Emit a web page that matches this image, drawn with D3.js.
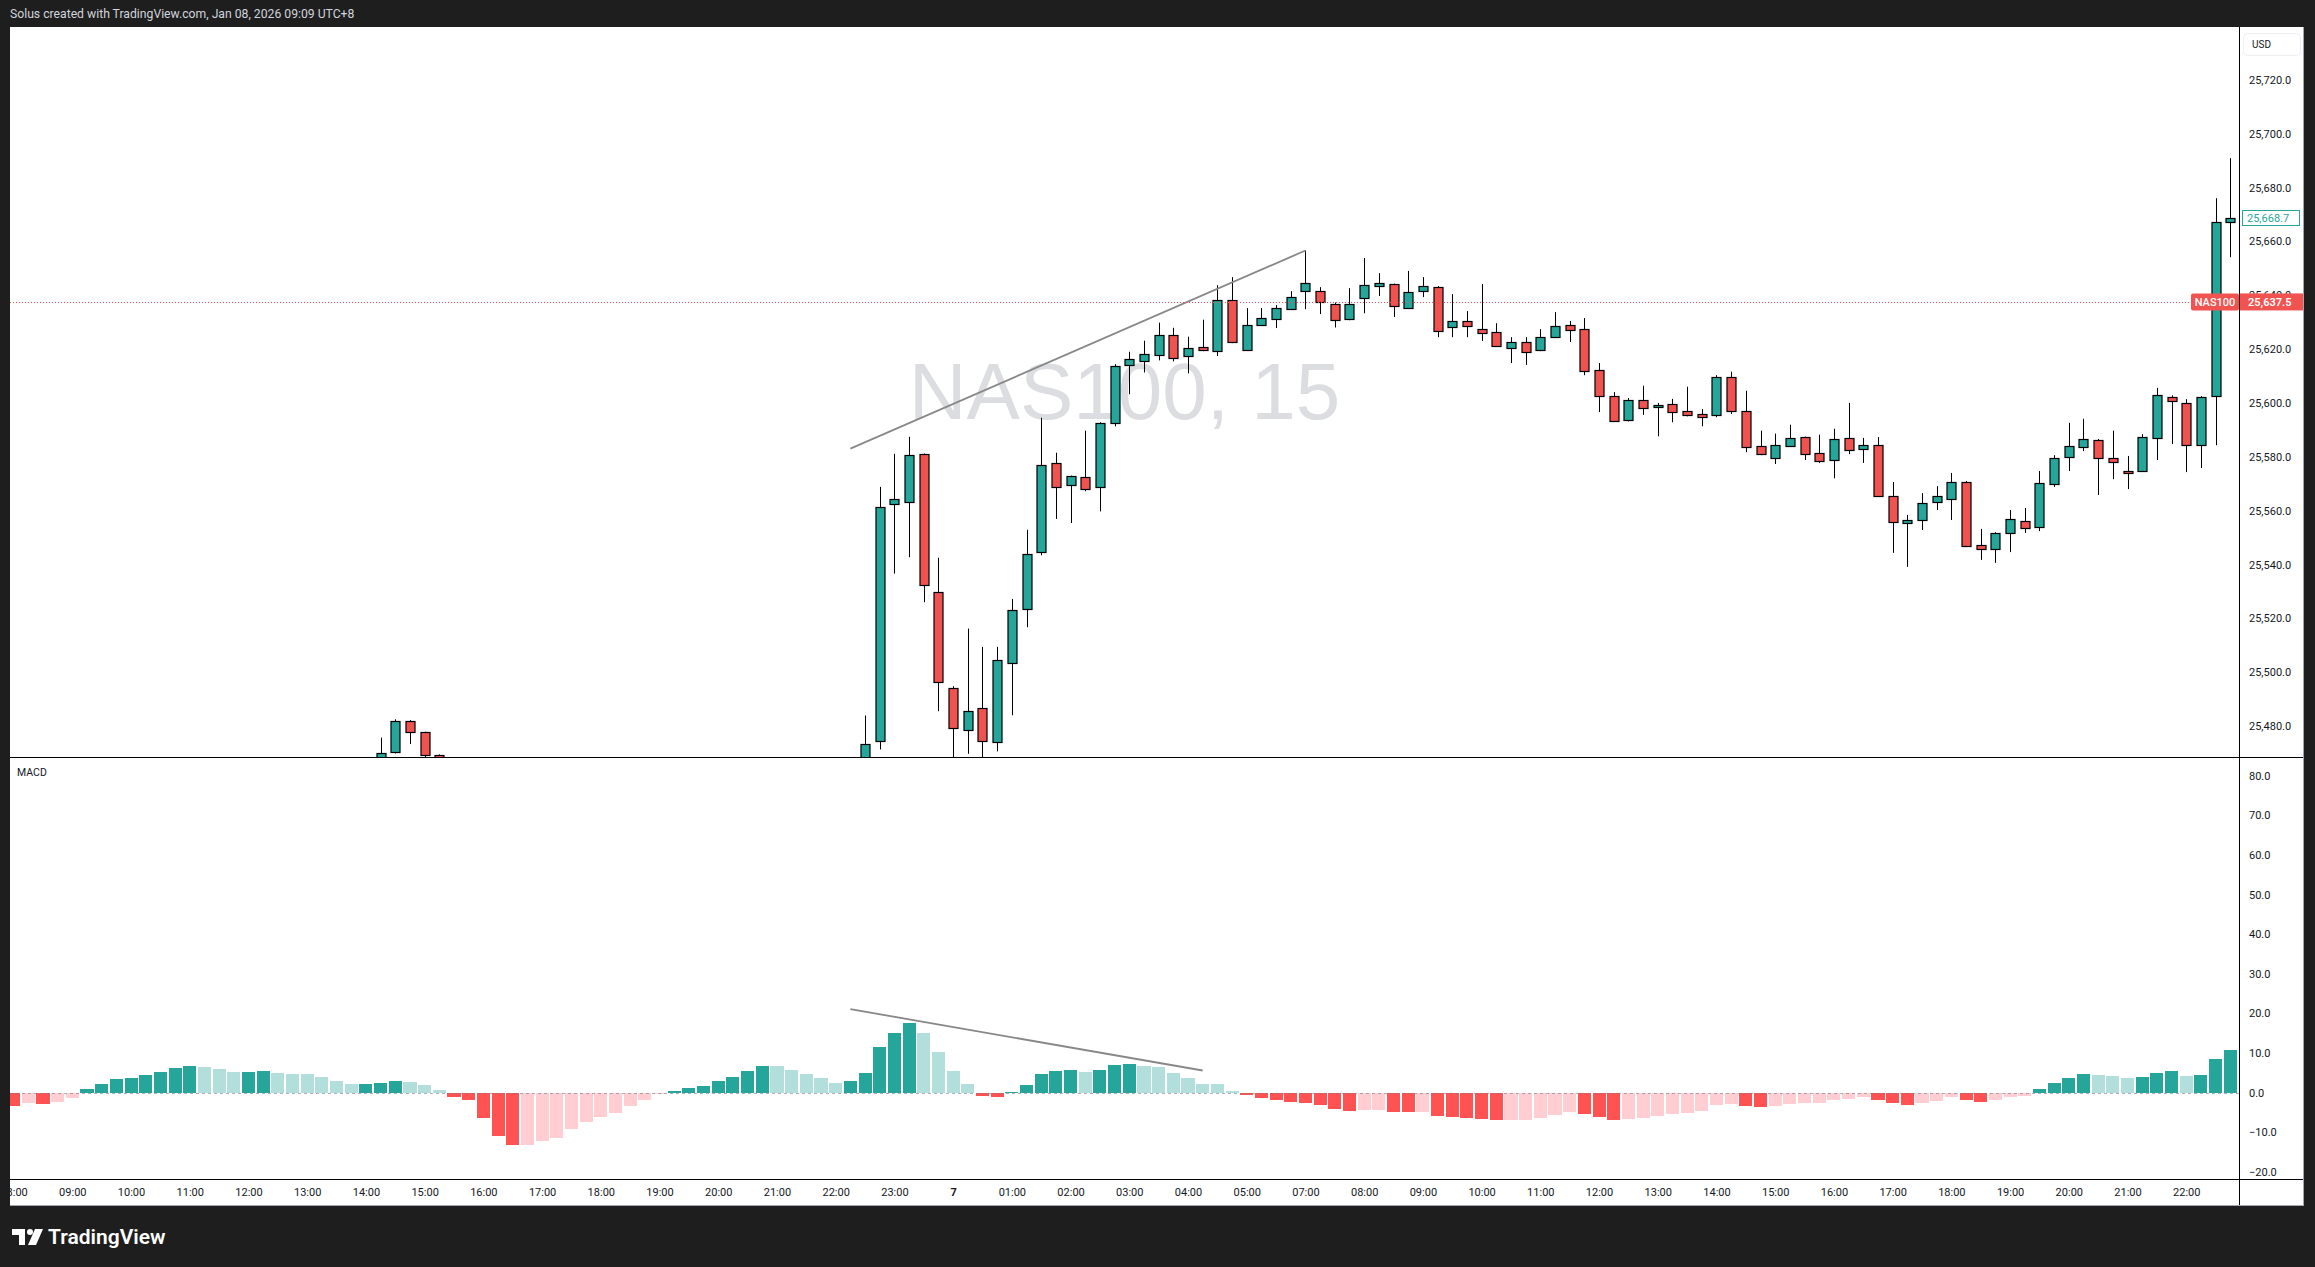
<!DOCTYPE html>
<html><head><meta charset="utf-8">
<script src="https://cdn.jsdelivr.net/npm/d3@7/dist/d3.min.js"></script>
<style>html,body{margin:0;padding:0;background:#1e1e1e;overflow:hidden}text{font-family:Roboto,"Liberation Sans",Arial,sans-serif}</style>
</head><body><svg id="c" width="2315" height="1267"></svg>
<script>
// ---------------- DATA ----------------
const headerText = "Solus created with TradingView.com, Jan 08, 2026 09:09 UTC+8";
const watermark = "NAS100, 15";
const symbol = "NAS100";
const lastPrice = 25668.7;
const lineLevel = 25637.5;

// 152 fifteen-minute bars (08:00 day 6 -> 22:45 day 7); null = candle outside the visible price range
const open = [
 null,null,null,null,null,null,null,null,null,null,null,null,null,null,null,null,null,null,null,null,null,null,null,null,null,
 25462,25470.4,25481.9,25477.8,25469.3,
 null,null,null,null,null,null,null,null,null,null,null,null,null,null,null,null,null,null,null,null,null,null,null,null,null,null,null,null,
 25462,25474.4,25562.5,25563.2,25581.0,25529.8,25494.2,25478.6,25486.7,25474.1,25503.4,25523.5,25544.6,25577.7,
 25569.5,25572.5,25568.8,25592.5,25614.0,25615.4,25617.8,25625.2,25617.4,25620.7,25619.2,25638.2,25619.6,25628.9,25631.1,25634.8,25641.5,25641.5,
 25636.7,25631.1,25638.9,25643.4,25644.1,25635.2,25641.5,25643.0,25628.2,25630.4,25627.4,25626.3,25620.4,25622.6,25619.6,25624.4,25628.9,25627.4,25612.2,25602.5,
 25593.6,25601.1,25598.5,25599.6,25597.0,25595.9,25595.5,25609.6,25597.0,25584.0,25579.5,25584.0,25587.3,25581.4,25578.8,25587.0,25582.9,25584.3,25565.4,25555.4,
 25556.5,25563.2,25564.3,25570.6,25547.2,25545.8,25551.7,25556.1,25553.9,25569.9,25579.9,25583.6,25586.2,25579.5,25574.7,25574.7,25587.0,25602.2,25600.0,25584.3,
 25602.5,25667.1];
const high = [
 null,null,null,null,null,null,null,null,null,null,null,null,null,null,null,null,null,null,null,null,null,null,null,null,null,
 25475.7,25482.5,25482.2,25477.9,25469.5,
 null,null,null,null,null,null,null,null,null,null,null,null,null,null,null,null,null,null,null,null,null,null,null,null,null,null,null,null,
 25483.9,25568.8,25581.1,25587.4,25581.2,25542.5,25494.8,25516.2,25509.4,25509.4,25527.2,25552.9,25594.5,25581.5,
 25573.0,25589.7,25592.8,25614.4,25619.0,25623.1,25629.8,25627.9,25624.6,25630.9,25643.7,25646.7,25635.2,25635.2,25636.3,25641.5,25656.6,25643.0,
 25637.3,25642.6,25653.8,25648.2,25644.3,25649.0,25646.7,25643.4,25640.4,25634.1,25644.1,25629.6,25624.4,25624.4,25627.4,25633.7,25630.4,25631.5,25614.8,25604.0,
 25601.8,25606.4,25600.0,25601.5,25606.0,25597.7,25610.3,25611.6,25604.5,25589.7,25588.6,25591.9,25587.5,25588.2,25590.4,25600.0,25587.0,25587.3,25570.6,25558.4,
 25566.5,25569.1,25574.0,25571.0,25553.2,25552.0,25560.2,25561.0,25574.7,25580.6,25592.6,25594.1,25586.6,25589.7,25580.3,25588.4,25605.6,25602.8,25601.4,25602.5,
 25676.0,25690.9];
const low = [
 null,null,null,null,null,null,null,null,null,null,null,null,null,null,null,null,null,null,null,null,null,null,null,null,null,
 25455,25469.8,25473.3,25466,25460,
 null,null,null,null,null,null,null,null,null,null,null,null,null,null,null,null,null,null,null,null,null,null,null,null,null,null,null,null,
 25458,25471.3,25536.6,25542.7,25526.0,25485.5,25465,25469.7,25466,25470.6,25484.0,25516.7,25543.4,25556.9,
 25555.4,25567.2,25559.7,25591.3,25603.2,25611.3,25615.8,25615.4,25611.0,25619.2,25617.4,25622.2,25619.4,25628.7,25627.8,25634.5,25634.8,25633.0,
 25628.0,25630.7,25633.3,25639.7,25631.9,25635.0,25639.3,25624.4,25624.4,25624.4,25623.0,25621.0,25614.8,25614.1,25619.2,25624.2,25622.6,25610.3,25596.6,25593.0,
 25593.1,25595.6,25587.6,25592.8,25595.0,25591.3,25594.7,25595.9,25581.7,25580.6,25577.3,25583.8,25578.8,25577.7,25572.0,25581.0,25577.7,25565.2,25544.3,25539.1,
 25552.8,25560.2,25556.5,25546.5,25541.7,25540.6,25544.6,25551.7,25552.4,25568.8,25574.7,25582.1,25565.8,25571.7,25568.0,25574.5,25578.8,25584.7,25574.3,25575.8,
 25584.3,25654.1];
const close = [
 null,null,null,null,null,null,null,null,null,null,null,null,null,null,null,null,null,null,null,null,null,null,null,null,null,
 25470.0,25481.9,25477.8,25469.3,25465,
 null,null,null,null,null,null,null,null,null,null,null,null,null,null,null,null,null,null,null,null,null,null,null,null,null,null,null,null,
 25473.4,25561.3,25564.3,25580.6,25532.4,25496.4,25479.3,25485.6,25474.4,25504.5,25523.1,25543.9,25576.9,25568.8,
 25572.7,25568.0,25592.5,25613.7,25616.3,25618.1,25625.2,25616.7,25620.4,25619.6,25638.2,25622.6,25628.9,25631.5,25635.2,25639.3,25644.5,25637.6,
 25630.7,25636.7,25643.7,25644.5,25636.0,25641.1,25643.4,25626.7,25630.4,25628.5,25625.9,25621.1,25622.6,25618.9,25624.4,25628.5,25627.0,25611.8,25602.5,25593.3,
 25601.1,25598.1,25599.2,25596.6,25595.5,25594.7,25609.6,25597.0,25583.6,25581.0,25584.3,25587.0,25581.0,25578.4,25586.6,25582.5,25584.3,25565.4,25555.8,25556.5,
 25562.8,25565.4,25570.6,25546.9,25545.8,25551.7,25556.9,25553.5,25570.2,25579.5,25584.0,25586.6,25579.5,25578.0,25574.0,25587.3,25602.9,25600.7,25584.3,25602.2,
 25667.1,25668.7];
// MACD histogram
const hist = [
 -3.37,-2.6,-2.86,-2.36,-1.35,0.84,2.1,3.37,3.62,4.38,5.13,6.14,6.65,6.4,5.89,5.13,5.3,5.42,4.88,4.63,
 4.55,3.87,2.86,2.05,2.15,2.36,2.86,2.61,1.85,0.59,-1.09,-1.85,-6.4,-10.94,-13.3,-13.15,-12.2,-11.45,-9.18,-7.4,
 -6.14,-5.13,-3.37,-1.85,-0.34,0.34,1.09,1.6,2.86,3.87,5.39,6.7,6.62,5.64,4.63,3.62,2.36,2.86,4.88,11.45,
 14.98,17.5,14.98,10.19,5.39,2.1,-0.84,-1.09,0.08,1.85,4.63,5.39,5.64,5.13,5.64,6.9,7.15,6.65,6.4,4.88,
 3.62,2.12,2.08,0.34,-0.59,-1.35,-1.85,-2.36,-2.61,-3.11,-4.12,-4.63,-4.4,-4.35,-4.85,-4.9,-4.87,-5.89,-6.14,-6.4,
 -6.65,-6.95,-6.92,-6.88,-6.4,-5.64,-4.88,-5.39,-6.14,-6.9,-6.65,-6.4,-5.89,-5.39,-5.13,-4.63,-3.11,-2.86,-3.37,-3.62,
 -3.37,-2.86,-2.65,-2.58,-1.85,-1.6,-1.09,-1.85,-2.61,-3.11,-2.61,-2.1,-1.09,-1.85,-2.36,-1.85,-1.09,-0.84,0.84,2.36,
 3.62,4.63,4.38,4.12,3.62,3.87,4.88,5.39,4.12,4.38,8.42,10.69];

// time axis tick labels and the bar each belongs to
const timeTickLabels = ["08:00","09:00","10:00","11:00","12:00","13:00","14:00","15:00","16:00","17:00","18:00","19:00","20:00","21:00","22:00","23:00","7","01:00","02:00","03:00","04:00","05:00","07:00","08:00","09:00","10:00","11:00","12:00","13:00","14:00","15:00","16:00","17:00","18:00","19:00","20:00","21:00","22:00"];
const timeTickBars = [0,4,8,12,16,20,24,28,32,36,40,44,48,52,56,60,64,68,72,76,80,84,88,92,96,100,104,108,112,116,120,124,128,132,136,140,144,148];
const priceTicks = [25480,25500,25520,25540,25560,25580,25600,25620,25640,25660,25680,25700,25720];
const macdTicks = [-20,-10,0,10,20,30,40,50,60,70,80];

// drawn trend lines (bar index, value)
const priceTrendBars = [57, 88], priceTrendValues = [25583.0, 25656.6];
const macdTrendBars = [57, 81], macdTrendValues = [21.05, 5.56];

// ---------------- DRAW ----------------
const W = 2315, H = 1267;
const L = 10, R = 2304, T = 27, B = 1206, AX = 2239;
const P_TOP = 27, P_BOT = 757, M_TOP = 757, M_BOT = 1179;
const N = close.length;
const svg = d3.select("#c");

svg.append("rect").attr("width", W).attr("height", H).attr("fill", "#1e1e1e");
svg.append("rect").attr("x", L).attr("y", T).attr("width", R - L).attr("height", B - T)
  .attr("fill", "#fff");

svg.append("text").attr("x", 10).attr("y", 14).attr("dy", "0.35em")
  .attr("fill", "#d1d4dc").attr("font-size", 12.2).text(headerText);

const x = d3.scaleLinear().domain([0, N - 1]).range([13.6, 13.6 + (N - 1) * 14.68]);
const step = x(1) - x(0);
const yP = d3.scaleLinear().domain([25468.5, 25739.6]).range([P_BOT, P_TOP]);
const yM = d3.scaleLinear().domain([-21.84, 84.72]).range([M_BOT, M_TOP]);

const defs = svg.append("defs");
defs.append("clipPath").attr("id", "cp").append("rect").attr("x", L).attr("y", P_TOP).attr("width", AX - L).attr("height", P_BOT - P_TOP);
defs.append("clipPath").attr("id", "cm").append("rect").attr("x", L).attr("y", M_TOP).attr("width", AX - L).attr("height", M_BOT - M_TOP);
defs.append("clipPath").attr("id", "ct").append("rect").attr("x", L).attr("y", M_BOT).attr("width", AX - L).attr("height", B - M_BOT);

// watermark
svg.append("text").attr("x", (L + AX) / 2).attr("y", 419).attr("text-anchor", "middle")
  .style("font-family", "'Liberation Sans', Arial, sans-serif")
  .attr("font-size", 80).attr("fill", "#dcdde0").text(watermark);

// price pane
const gP = svg.append("g").attr("clip-path", "url(#cp)");
const idx = d3.range(N).filter(i => close[i] != null);
const UP = "#26a69a", DN = "#ef5350";

gP.selectAll("line.w").data(idx).join("line")
  .attr("x1", i => Math.round(x(i)) + 0.5).attr("x2", i => Math.round(x(i)) + 0.5)
  .attr("y1", i => yP(high[i])).attr("y2", i => yP(low[i]))
  .attr("stroke", "#000").attr("stroke-width", 1);
gP.selectAll("rect.b").data(idx).join("rect")
  .attr("x", i => Math.round(x(i)) - 4)
  .attr("y", i => Math.round(yP(Math.max(open[i], close[i]))) + 0.5)
  .attr("width", 9)
  .attr("height", i => Math.max(1, Math.round(Math.abs(yP(open[i]) - yP(close[i])))))
  .attr("fill", i => close[i] >= open[i] ? UP : DN)
  .attr("stroke", "#000").attr("stroke-width", 1.2);

// price trend line
gP.append("line")
  .attr("x1", x(priceTrendBars[0])).attr("y1", yP(priceTrendValues[0]))
  .attr("x2", x(priceTrendBars[1])).attr("y2", yP(priceTrendValues[1]))
  .attr("stroke", "#888").attr("stroke-width", 1.8);

// dotted level line
gP.append("line").attr("x1", L).attr("x2", AX - 48).attr("y1", Math.round(yP(lineLevel)) + 0.5).attr("y2", Math.round(yP(lineLevel)) + 0.5)
  .attr("stroke", "#ef5350").attr("stroke-dasharray", "1 2").attr("stroke-width", 1);

// MACD pane
const gM = svg.append("g").attr("clip-path", "url(#cm)");
const histColor = i => {
  const v = hist[i], pv = i > 0 ? hist[i - 1] : v;
  if (v >= 0) return (i === 0 || v > pv) ? "#26a69a" : "#b2dfdb";
  return (i === 0 || v < pv) ? "#ff5252" : "#ffcdd2";
};
gM.selectAll("rect.h").data(d3.range(N)).join("rect")
  .attr("x", i => x(i) - step / 2 + 0.8)
  .attr("width", step - 1.6)
  .attr("y", i => Math.min(yM(0), yM(hist[i])))
  .attr("height", i => Math.abs(yM(hist[i]) - yM(0)))
  .attr("fill", histColor)
  .attr("shape-rendering", "crispEdges");
gM.append("line").attr("x1", L).attr("x2", AX).attr("y1", Math.round(yM(0)) + 0.5).attr("y2", Math.round(yM(0)) + 0.5)
  .attr("stroke", "#787b86").attr("stroke-opacity", 0.6).attr("stroke-dasharray", "3 3");
gM.append("line")
  .attr("x1", x(macdTrendBars[0])).attr("y1", yM(macdTrendValues[0]))
  .attr("x2", x(macdTrendBars[1])).attr("y2", yM(macdTrendValues[1]))
  .attr("stroke", "#888").attr("stroke-width", 1.8);
svg.append("text").attr("x", 17).attr("y", 772).attr("dy", "0.35em").attr("font-size", 10.5)
  .attr("fill", "#131722").text("MACD");

// axes
const fmtP = d3.format(",.1f");
const fmtM = v => (v < 0 ? "\u2212" : "") + Math.abs(v).toFixed(1);
const axP = svg.append("g").attr("transform", `translate(${AX},0)`)
  .call(d3.axisRight(yP).tickValues(priceTicks).tickFormat(fmtP).tickSize(0).tickPadding(10));
const axM = svg.append("g").attr("transform", `translate(${AX},0)`)
  .call(d3.axisRight(yM).tickValues(macdTicks).tickFormat(fmtM).tickSize(0).tickPadding(10));
[axP, axM].forEach(a => {
  a.select(".domain").remove();
  a.selectAll("text").attr("font-size", 11).attr("fill", "#131722").style("font-family", "Roboto, Arial, sans-serif");
});
const axT = svg.append("g").attr("clip-path", "url(#ct)").append("g").attr("transform", `translate(0,${M_BOT})`)
  .call(d3.axisBottom(x).tickValues(timeTickBars).tickFormat((d, i) => timeTickLabels[i]).tickSize(0));
axT.select(".domain").remove();
axT.selectAll("text").attr("y", 13).attr("dy", "0.35em").attr("font-size", 11).attr("fill", "#131722")
  .style("font-family", "Roboto, Arial, sans-serif")
  .attr("font-weight", (d, i) => timeTickLabels[i] === "7" ? "bold" : null);

// USD box
svg.append("rect").attr("x", 2243.5).attr("y", 33.5).attr("width", 57).attr("height", 22).attr("rx", 4)
  .attr("fill", "#fff").attr("stroke", "#eceef2");
svg.append("text").attr("x", 2252).attr("y", 44.5).attr("dy", "0.35em").attr("font-size", 10).attr("fill", "#131722").text("USD");

// last price label (teal outline)
const yl = yP(lastPrice);
svg.append("rect").attr("x", 2242.5).attr("y", Math.round(yl) - 7.5).attr("width", 57).attr("height", 15)
  .attr("fill", "#fff").attr("stroke", UP).attr("stroke-width", 1);
svg.append("text").attr("x", 2247).attr("y", yl).attr("dy", "0.35em").attr("font-size", 11).attr("fill", UP).text(fmtP(lastPrice));

// red level labels
const yr = yP(lineLevel);
svg.append("rect").attr("x", AX - 48).attr("y", yr - 8.5).attr("width", 48).attr("height", 17).attr("rx", 2).attr("fill", "#f05350");
svg.append("text").attr("x", AX - 24).attr("y", yr).attr("dy", "0.35em").attr("text-anchor", "middle")
  .attr("font-size", 11).attr("font-weight", 500).attr("fill", "#fff").text(symbol);
svg.append("rect").attr("x", AX).attr("y", yr - 8.5).attr("width", R - AX).attr("height", 17).attr("fill", "#f05350");
svg.append("text").attr("x", 2248).attr("y", yr).attr("dy", "0.35em")
  .attr("font-size", 11).attr("font-weight", 600).attr("fill", "#fff").text(fmtP(lineLevel));

// separators
const sep = (x1, y1, x2, y2) => svg.append("line").attr("x1", x1).attr("y1", y1).attr("x2", x2).attr("y2", y2).attr("stroke", "#000").attr("stroke-width", 1);
sep(L, P_BOT + 0.5, R, P_BOT + 0.5);
sep(L, M_BOT + 0.5, R, M_BOT + 0.5);
sep(AX + 0.5, T, AX + 0.5, B);
svg.append("line").attr("x1", R - 0.5).attr("x2", R - 0.5).attr("y1", T).attr("y2", B).attr("stroke", "#a3a6af");
svg.append("line").attr("x1", L).attr("x2", R).attr("y1", B - 0.5).attr("y2", B - 0.5).attr("stroke", "#a3a6af");

// TradingView logo
const lg = svg.append("g").attr("fill", "#fff");
lg.append("path").attr("d", "M12 1229 h13 v16 h-6 v-10 h-7 z");
lg.append("circle").attr("cx", 30).attr("cy", 1232).attr("r", 3);
lg.append("path").attr("d", "M35 1229 h8 l-7 16 h-8 z");
svg.append("text").attr("x", 48).attr("y", 1237).attr("dy", "0.35em").attr("font-size", 21).attr("font-weight", 600)
  .attr("fill", "#fff").text("TradingView");
</script></body></html>
